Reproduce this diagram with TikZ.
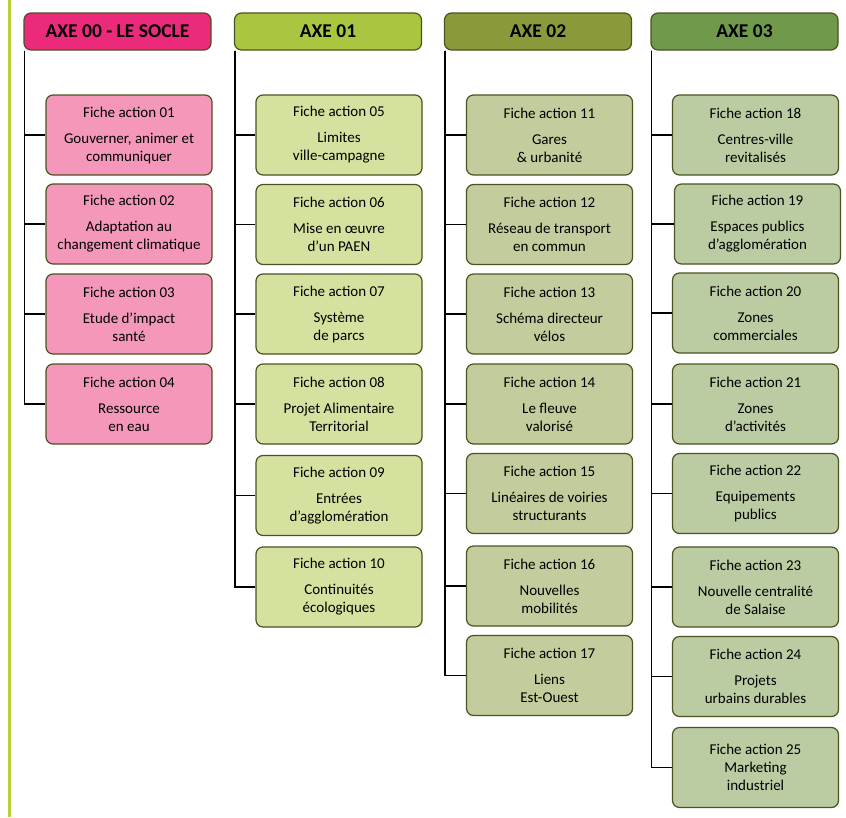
\documentclass[tikz,border=0pt]{standalone}
\usepackage{fontspec}
\setmainfont{Carlito}
\usetikzlibrary{positioning}
\definecolor{edge}{HTML}{4B5320}
\definecolor{rail}{HTML}{B5D334}
\definecolor{socleHead}{HTML}{EB2A7B}
\definecolor{socleBox}{HTML}{F597BB}
\definecolor{unHead}{HTML}{AAC53F}
\definecolor{unBox}{HTML}{D5E19F}
\definecolor{deuxHead}{HTML}{8A9A3B}
\definecolor{deuxBox}{HTML}{C3CC9C}
\definecolor{troisHead}{HTML}{70994B}
\definecolor{troisBox}{HTML}{BBCCA3}
\def\gap{\\[8pt]}

\begin{document}
\begin{tikzpicture}[
    x=1pt, y=-1pt,
    every node/.style={
        font=\fontsize{15}{18}\selectfont,
    },
    axe/.style={draw=edge, line width=1.2pt, rounded corners=7pt,
        minimum width=187pt, minimum height=37pt, inner sep=0pt,
        font=\fontsize{19.5}{22}\selectfont\bfseries},
    fiche/.style={draw=edge, line width=1.2pt, rounded corners=7pt,
        minimum width=166pt, minimum height=80pt, inner sep=2pt, align=center},
    branch/.style={line width=1.3pt},
]
    \useasboundingbox (0,0) rectangle (846,817);
    \draw[rail, line width=2.7pt] (9.7,0) -- (9.7,817);

    % headers
    \node[axe, fill=socleHead] (a0) at (117.5,31.5) {AXE 00 - LE SOCLE};
    \node[axe, fill=unHead] (a1) at (328,31.5) {AXE 01};
    \node[axe, fill=deuxHead] (a2) at (538,31.5) {AXE 02};
    \node[axe, fill=troisHead] (a3) at (744.5,31.5) {AXE 03};

    % axe 00
    \node[fiche, fill=socleBox] (f01) at (129,135) {Fiche action 01\gap Gouverner, animer et\\communiquer};
    \node[fiche, fill=socleBox] (f02) at (129,224) {Fiche action 02\gap Adaptation au\\changement climatique};
    \node[fiche, fill=socleBox] (f03) at (129,314) {Fiche action 03\gap Etude d’impact\\santé};
    \node[fiche, fill=socleBox] (f04) at (129,404) {Fiche action 04\gap Ressource\\en eau};

    % axe 01
    \node[fiche, fill=unBox] (f05) at (339,135) {Fiche action 05\gap Limites\\ville-campagne};
    \node[fiche, fill=unBox] (f06) at (339,224.5) {Fiche action 06\gap Mise en œuvre\\d’un PAEN};
    \node[fiche, fill=unBox] (f07) at (339,314) {Fiche action 07\gap Système\\de parcs};
    \node[fiche, fill=unBox] (f08) at (339,404) {Fiche action 08\gap Projet Alimentaire\\Territorial};
    \node[fiche, fill=unBox] (f09) at (339,495.5) {Fiche action 09\gap Entrées\\d’agglomération};
    \node[fiche, fill=unBox] (f10) at (339,587) {Fiche action 10\gap Continuités\\écologiques};

    % axe 02
    \node[fiche, fill=deuxBox] (f11) at (549.5,135) {Fiche action 11\gap Gares\\\& urbanité};
    \node[fiche, fill=deuxBox] (f12) at (549.5,224.5) {Fiche action 12\gap Réseau de transport\\en commun};
    \node[fiche, fill=deuxBox] (f13) at (549.5,314) {Fiche action 13\gap Schéma directeur\\vélos};
    \node[fiche, fill=deuxBox] (f14) at (549.5,404) {Fiche action 14\gap Le fleuve\\valorisé};
    \node[fiche, fill=deuxBox] (f15) at (549.5,493.5) {Fiche action 15\gap Linéaires de voiries\\structurants};
    \node[fiche, fill=deuxBox] (f16) at (549.5,586) {Fiche action 16\gap Nouvelles\\mobilités};
    \node[fiche, fill=deuxBox] (f17) at (549.5,675.5) {Fiche action 17\gap Liens\\Est-Ouest};

    % axe 03
    \node[fiche, fill=troisBox] (f18) at (755.5,135) {Fiche action 18\gap Centres-ville\\revitalisés};
    \node[fiche, fill=troisBox] (f19) at (757.5,224) {Fiche action 19\gap Espaces publics\\d’agglomération};
    \node[fiche, fill=troisBox] (f20) at (755.5,313) {Fiche action 20\gap Zones\\commerciales};
    \node[fiche, fill=troisBox] (f21) at (755.5,404) {Fiche action 21\gap Zones\\d’activités};
    \node[fiche, fill=troisBox] (f22) at (755.5,493.5) {Fiche action 22\gap Equipements\\publics};
    \node[fiche, fill=troisBox] (f23) at (755.5,587) {Fiche action 23\gap Nouvelle centralité\\de Salaise};
    \node[fiche, fill=troisBox] (f24) at (755.5,676.5) {Fiche action 24\gap Projets\\urbains durables};
    \node[fiche, fill=troisBox] (f25) at (755.5,767.5) {Fiche action 25\\Marketing\\industriel};

    % branches
    \draw[branch] ([xshift=1pt]a0.south west) |- (f01.west);
    \draw[branch] ([xshift=1pt]a0.south west) |- (f02.west);
    \draw[branch] ([xshift=1pt]a0.south west) |- (f03.west);
    \draw[branch] ([xshift=1pt]a0.south west) |- (f04.west);
    \draw[branch] ([xshift=1pt]a1.south west) |- (f05.west);
    \draw[branch] ([xshift=1pt]a1.south west) |- (f06.west);
    \draw[branch] ([xshift=1pt]a1.south west) |- (f07.west);
    \draw[branch] ([xshift=1pt]a1.south west) |- (f08.west);
    \draw[branch] ([xshift=1pt]a1.south west) |- (f09.west);
    \draw[branch] ([xshift=1pt]a1.south west) |- (f10.west);
    \draw[branch] ([xshift=1pt]a2.south west) |- (f11.west);
    \draw[branch] ([xshift=1pt]a2.south west) |- (f12.west);
    \draw[branch] ([xshift=1pt]a2.south west) |- (f13.west);
    \draw[branch] ([xshift=1pt]a2.south west) |- (f14.west);
    \draw[branch] ([xshift=1pt]a2.south west) |- (f15.west);
    \draw[branch] ([xshift=1pt]a2.south west) |- (f16.west);
    \draw[branch] ([xshift=1pt]a2.south west) |- (f17.west);
    \draw[branch] ([xshift=1pt]a3.south west) |- (f18.west);
    \draw[branch] ([xshift=1pt]a3.south west) |- (f19.west);
    \draw[branch] ([xshift=1pt]a3.south west) |- (f20.west);
    \draw[branch] ([xshift=1pt]a3.south west) |- (f21.west);
    \draw[branch] ([xshift=1pt]a3.south west) |- (f22.west);
    \draw[branch] ([xshift=1pt]a3.south west) |- (f23.west);
    \draw[branch] ([xshift=1pt]a3.south west) |- (f24.west);
    \draw[branch] ([xshift=1pt]a3.south west) |- (f25.west);
\end{tikzpicture}
\end{document}
